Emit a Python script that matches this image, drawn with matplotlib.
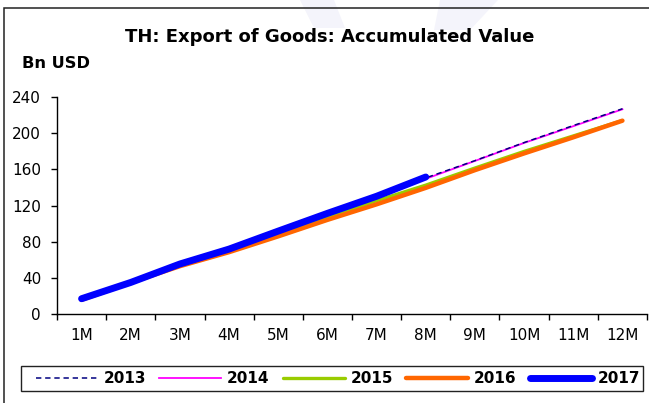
import matplotlib
matplotlib.use("Agg")
import matplotlib.pyplot as plt
from matplotlib.patches import Rectangle, Polygon
import numpy as np

plt.rcParams['font.family'] = ['DejaVu Sans']

months = ["1M", "2M", "3M", "4M", "5M", "6M", "7M", "8M", "9M", "10M", "11M", "12M"]
y2013 = [17.9, 36.6, 56.6, 73.9, 92.9, 111.8, 131.0, 150.5, 169.6, 189.6, 208.4, 227.0]
y2014 = [17.5, 36.0, 56.0, 73.6, 93.1, 112.2, 131.0, 149.5, 169.3, 189.2, 207.7, 226.4]
y2015 = [16.9, 34.5, 54.3, 71.2, 88.7, 107.2, 125.3, 142.5, 161.4, 179.8, 196.9, 214.0]
y2016 = [15.7, 34.7, 52.9, 68.4, 85.9, 104.1, 121.3, 139.5, 159.1, 177.6, 195.4, 213.8]
y2017 = [16.9, 34.9, 55.3, 71.8, 91.7, 111.3, 130.2, 151.5]
yticks = [0, 40, 80, 120, 160, 200, 240]

W, H = 649, 403
fig = plt.figure(figsize=(W / 100, H / 100), dpi=100)


def fx(px):
    return px / W


def fy(py):
    return 1 - py / H


# faint background watermark strokes
for pts in ([(300, 0), (334, 0), (345, 28), (314, 28)],
            [(440, 0), (498, 0), (470, 30), (434, 30)]):
    fig.patches.append(Polygon([(fx(a), fy(b)) for a, b in pts], closed=True,
                               transform=fig.transFigure, facecolor="#f4f4fb",
                               edgecolor="none", zorder=0))

# outer chart border (left and top edges visible)
fig.patches.append(Rectangle((fx(4), -0.05), 1.2, fy(8) + 0.05,
                             transform=fig.transFigure, fill=False,
                             edgecolor="#222222", linewidth=1.1, zorder=1))

ax = fig.add_axes([fx(57), fy(314), fx(590), 217 / H])
x = np.arange(len(months))

ax.plot(x, y2015, color="#99CC00", lw=2.4, solid_capstyle="round", zorder=2, label="2015")
ax.plot(x, y2016, color="#FF6600", lw=3.2, solid_capstyle="round", zorder=3, label="2016")
ax.plot(x, y2014, color="#FF00FF", lw=1.3, zorder=4, label="2014")
ax.plot(x, y2013, color="#000080", lw=1.1, ls=(0, (3.5, 2.5)), zorder=5, label="2013")
ax.plot(x[:len(y2017)], y2017, color="#0000FF", lw=5.0, solid_capstyle="round",
        zorder=6, label="2017")

ax.set_xlim(-0.5, len(months) - 0.5)
ax.set_ylim(0, 240)
ax.set_yticks(yticks)
ax.set_xticks(x)
ax.set_xticklabels(months)
ax.set_xticks(np.arange(-0.5, len(months)), minor=True)
ax.tick_params(axis="x", which="major", length=0, pad=10, labelsize=11)
ax.tick_params(axis="x", which="minor", length=4, width=1, direction="out")
ax.tick_params(axis="y", length=4.5, width=1, direction="out", pad=7, labelsize=11)
for s in ("top", "right"):
    ax.spines[s].set_visible(False)
for s in ("left", "bottom"):
    ax.spines[s].set_linewidth(1)
ax.set_facecolor("none")

fig.text(fx(330), fy(37), "TH: Export of Goods: Accumulated Value",
         ha="center", va="center", fontsize=13, fontweight="bold")
fig.text(fx(22), fy(63), "Bn USD", ha="left", va="center",
         fontsize=11.7, fontweight="bold")

handles, labels = ax.get_legend_handles_labels()
order = [labels.index(k) for k in ["2013", "2014", "2015", "2016", "2017"]]
leg = fig.legend([handles[i] for i in order], [labels[i] for i in order],
                 loc="center", bbox_to_anchor=(fx(338), fy(378.5)),
                 ncol=5, frameon=False, handlelength=4.05,
                 handletextpad=0.4, columnspacing=0.85, borderpad=0.0,
                 prop={"weight": "bold", "size": 11})

# legend frame
fig.patches.append(Rectangle((fx(21), fy(391)), fx(643) - fx(21), fy(366) - fy(391),
                             transform=fig.transFigure, fill=False,
                             edgecolor="#222222", linewidth=1.0, zorder=1))

fig.savefig("out.png", dpi=100)
